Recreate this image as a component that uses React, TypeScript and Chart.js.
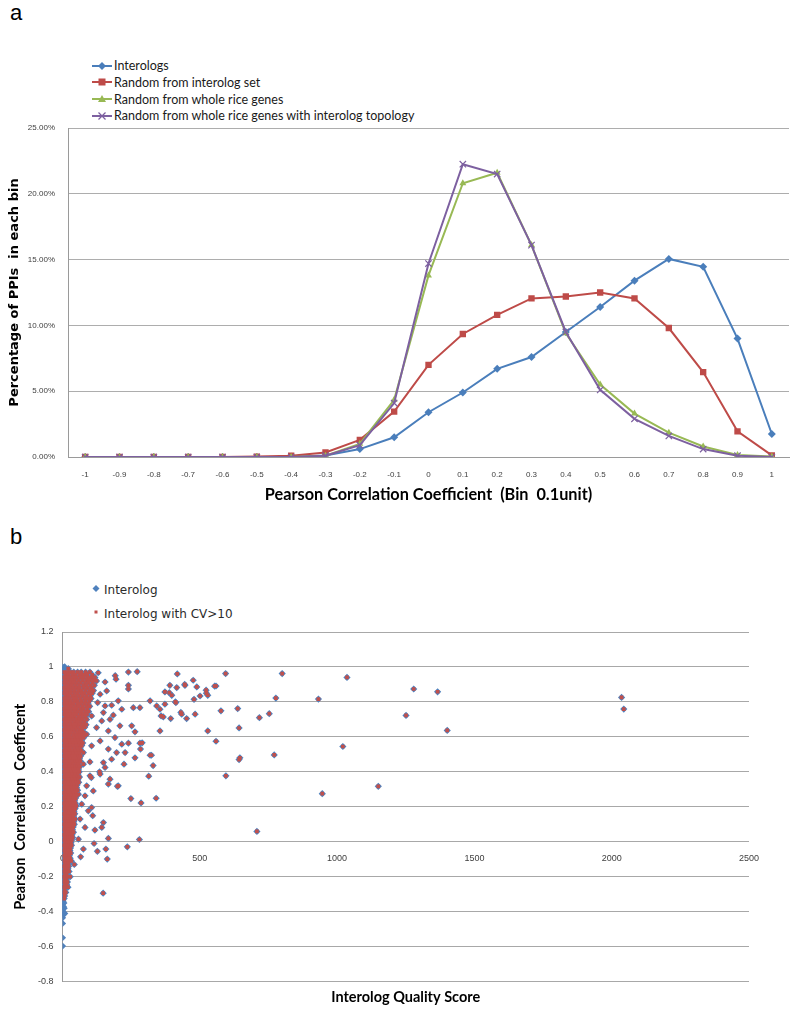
import React, { useEffect, useRef } from 'react';
import { Chart, registerables } from 'chart.js';

Chart.register(...registerables);

// ---------- Panel a data ----------
const binLabels = ['-1', '-0.9', '-0.8', '-0.7', '-0.6', '-0.5', '-0.4', '-0.3', '-0.2', '-0.1', '0', '0.1', '0.2', '0.3', '0.4', '0.5', '0.6', '0.7', '0.8', '0.9', '1'];
const interologs = [0, 0, 0, 0, 0, 0, 0.02, 0.12, 0.6, 1.5, 3.4, 4.9, 6.7, 7.6, 9.5, 11.4, 13.4, 15.05, 14.45, 9.0, 1.75];
const randomInterologSet = [0, 0, 0, 0, 0, 0.03, 0.1, 0.35, 1.3, 3.45, 7.0, 9.35, 10.8, 12.05, 12.2, 12.5, 12.05, 9.8, 6.45, 1.95, 0.12];
const randomWholeRice = [0, 0, 0, 0, 0, 0, 0, 0.1, 1.0, 4.35, 13.8, 20.8, 21.6, 16.1, 9.4, 5.5, 3.3, 1.85, 0.8, 0.15, 0.03];
const randomWholeRiceTopology = [0, 0, 0, 0, 0, 0, 0, 0.1, 0.9, 4.1, 14.7, 22.25, 21.5, 16.1, 9.5, 5.1, 2.9, 1.6, 0.6, 0.1, 0.0];
const seriesNamesA = ['Interologs', 'Random from interolog set', 'Random from whole rice genes', 'Random from whole rice genes with interolog topology'];
const seriesColorsA = ['#4A7EBB', '#BE4B48', '#98B954', '#7D60A0'];

// ---------- Panel b data ----------
// Interolog points with CV>10: [quality score, pearson]
const cvOutliers: [number, number][] = [
  [21, 0.99], [130, 0.967], [192, 0.95], [195, 0.93], [155, 0.914], [240, 0.971], [272, 0.973], [418, 0.96], [594, 0.962], [800, 0.962], [1036, 0.94],
  [240, 0.895], [240, 0.874], [391, 0.895], [389, 0.853], [446, 0.895], [476, 0.924], [416, 0.882], [445, 0.9], [489, 0.886], [373, 0.857], [398, 0.838],
  [523, 0.867], [559, 0.891], [554, 0.89], [524, 0.85], [501, 0.834], [529, 0.838], [479, 0.815], [319, 0.806], [343, 0.777], [373, 0.787], [411, 0.8],
  [413, 0.796], [777, 0.822], [932, 0.816], [367, 0.714], [394, 0.705], [434, 0.73], [452, 0.705], [483, 0.73], [355, 0.758], [359, 0.72], [431, 0.74],
  [577, 0.749], [638, 0.762], [717, 0.71], [753, 0.733], [355, 0.634], [529, 0.634], [643, 0.651], [559, 0.575], [643, 0.47], [646, 0.48], [771, 0.497],
  [1021, 0.545], [1150, 0.317], [946, 0.275], [708, 0.059], [595, 0.377], [258, 0.767], [282, 0.767], [252, 0.663], [264, 0.629], [282, 0.564],
  [319, 0.495], [240, 0.564], [209, 0.663], [173, 0.7], [149, 0.739], [167, 0.53], [197, 0.51], [228, 0.51], [179, 0.472], [149, 0.453], [100, 0.457],
  [290, 0.566], [284, 0.53], [264, 0.48], [224, 0.444], [324, 0.495], [330, 0.436], [314, 0.375], [341, 0.249], [286, 0.222], [249, 0.247], [200, 0.317],
  [173, 0.358], [167, 0.33], [203, 0.32], [137, 0.387], [155, 0.425], [135, 0.4], [105, 0.367], [100, 0.377], [112, 0.291], [82, 0.263], [58, 0.272],
  [106, 0.196], [110, 0.149], [149, 0.11], [143, 0.082], [118, 0.067], [167, 0.019], [280, 0.013], [236, -0.029], [115, -0.01], [158, -0.042],
  [127, -0.055], [163, -0.099], [66, -0.086], [58, 0.015], [148, -0.294], [1279, 0.874], [1366, 0.858], [1251, 0.723], [1401, 0.637], [2036, 0.826], [2044, 0.759],
  [88, 0.96], [98, 0.933], [64, 0.95], [124, 0.92], [106, 0.873], [137, 0.844], [161, 0.863], [100, 0.815], [128, 0.796], [155, 0.777], [179, 0.781],
  [203, 0.806], [216, 0.758], [185, 0.724], [143, 0.691], [106, 0.72], [124, 0.653], [167, 0.634], [88, 0.615], [191, 0.596], [137, 0.577], [106, 0.549],
  [216, 0.558], [76, 0.51], [76, 0.444], [88, 0.32], [70, 0.215], [94, 0.177], [64, 0.13], [82, 0.082], [76, -0.042], [43, -0.13]
];
// dense body of CV>10 points: [pearson, scores in that row]
const cvDenseRows: [number, number[]][] = [
  [0.97, [6, 17, 29, 41, 55, 68, 84, 100]], [0.955, [10, 22, 35, 48, 62, 76, 90, 108]], [0.94, [5, 15, 27, 39, 52, 66, 78, 92, 105, 118]],
  [0.925, [8, 20, 32, 45, 58, 72, 86, 99, 112]], [0.91, [6, 16, 28, 41, 53, 67, 82, 95, 110]], [0.895, [9, 21, 34, 46, 60, 75, 88, 102, 116]],
  [0.88, [5, 14, 26, 38, 50, 63, 78, 92, 106]], [0.865, [8, 19, 31, 44, 57, 70, 84, 98, 113]], [0.85, [6, 17, 29, 42, 55, 68, 81, 95, 108]],
  [0.835, [10, 22, 35, 47, 60, 74, 87, 101]], [0.82, [5, 15, 27, 40, 52, 65, 79, 90, 104]], [0.805, [8, 19, 31, 44, 56, 70, 83, 97]],
  [0.79, [6, 17, 29, 41, 54, 67, 80, 93]], [0.775, [9, 21, 34, 46, 59, 72, 86, 99]], [0.76, [5, 15, 27, 39, 51, 64, 76, 90]],
  [0.745, [8, 19, 31, 43, 56, 68, 82, 95]], [0.73, [6, 17, 28, 40, 52, 65, 77, 89]], [0.715, [10, 21, 33, 45, 58, 71, 84]],
  [0.7, [5, 15, 26, 38, 50, 62, 74, 88]], [0.685, [8, 19, 31, 43, 55, 67, 80]], [0.67, [6, 16, 28, 40, 51, 63, 75, 86]],
  [0.655, [9, 20, 32, 44, 56, 68, 81]], [0.64, [5, 15, 26, 37, 49, 61, 72]], [0.625, [8, 18, 30, 42, 54, 66, 78]],
  [0.61, [6, 16, 27, 39, 50, 60, 71, 83]], [0.595, [9, 20, 31, 43, 55, 66, 77]], [0.58, [5, 14, 25, 36, 47, 58, 69]],
  [0.565, [8, 18, 29, 41, 52, 63, 74]], [0.55, [6, 16, 27, 38, 49, 60, 70]], [0.535, [9, 19, 30, 42, 53, 64]],
  [0.52, [5, 14, 25, 36, 46, 57, 68]], [0.505, [8, 18, 28, 39, 50, 61]], [0.49, [6, 15, 26, 37, 47, 56, 66]],
  [0.475, [9, 19, 29, 40, 51, 62]], [0.46, [5, 14, 24, 35, 45, 55, 65]], [0.445, [8, 17, 28, 38, 49, 59]],
  [0.43, [6, 15, 25, 35, 45, 54, 63]], [0.415, [9, 18, 28, 39, 48, 58]], [0.4, [5, 14, 23, 33, 43, 52, 61]],
  [0.385, [8, 17, 27, 37, 46, 56]], [0.37, [6, 15, 24, 34, 44, 53, 62]], [0.355, [9, 18, 27, 37, 47, 56]],
  [0.34, [5, 13, 22, 32, 41, 50, 59]], [0.325, [8, 17, 26, 35, 44, 53]], [0.31, [6, 14, 23, 33, 42, 51]],
  [0.295, [9, 17, 26, 36, 45, 55]], [0.28, [5, 13, 22, 31, 40, 49]], [0.265, [8, 16, 25, 34, 43, 52]],
  [0.25, [6, 14, 22, 31, 40, 48]], [0.235, [9, 17, 26, 35, 44]], [0.22, [5, 13, 21, 30, 38, 47]],
  [0.205, [8, 16, 24, 33, 42, 50]], [0.19, [6, 14, 22, 30, 39, 46]], [0.175, [9, 17, 25, 34, 42]],
  [0.16, [5, 12, 20, 28, 37, 45]], [0.145, [8, 15, 23, 32, 40]], [0.13, [6, 13, 21, 29, 38, 46]],
  [0.115, [9, 16, 24, 33, 41]], [0.1, [5, 12, 19, 27, 35, 43]], [0.085, [8, 15, 23, 31, 39]],
  [0.07, [6, 13, 20, 28, 36]], [0.055, [9, 16, 24, 32, 40]], [0.04, [5, 12, 19, 27, 35]],
  [0.025, [8, 15, 22, 30, 37]], [0.01, [6, 13, 20, 28, 34]], [-0.005, [9, 16, 24, 31]],
  [-0.02, [5, 12, 19, 26, 33]], [-0.035, [8, 15, 22, 29]], [-0.05, [6, 13, 20, 27]],
  [-0.065, [9, 16, 23, 30]], [-0.08, [5, 12, 18, 25]], [-0.095, [8, 14, 21, 28]],
  [-0.11, [6, 12, 18, 24, 32]], [-0.125, [9, 15, 21]], [-0.14, [5, 11, 17, 23]],
  [-0.155, [8, 14, 20]], [-0.17, [6, 12, 18, 24]], [-0.185, [9, 15]],
  [-0.2, [5, 11, 17, 28]], [-0.215, [8, 14]], [-0.23, [6, 12, 18]],
  [-0.245, [9, 15]], [-0.26, [5, 11, 20]], [-0.275, [8]], [-0.29, [6, 12]], [-0.31, [8]], [-0.325, [6]]
];
// Interolog points that are not CV>10 (low-score column)
const interologOnly: [number, number][] = [
  [0, 1.0], [3, 0.99], [8, 1.0], [5, 0.995], [12, 0.985], [1, 0.975], [4, 0.96], [0, 0.945], [2, 0.93], [1, 0.91], [3, 0.895], [0, 0.88], [2, 0.86],
  [1, 0.845], [3, 0.83], [0, 0.81], [2, 0.795], [1, 0.78], [3, 0.76], [0, 0.745], [2, 0.73], [1, 0.71], [3, 0.695], [0, 0.68], [2, 0.66],
  [1, 0.645], [3, 0.63], [0, 0.61], [2, 0.595], [1, 0.58], [3, 0.56], [0, 0.545], [2, 0.53], [1, 0.51], [3, 0.495], [0, 0.48], [2, 0.46],
  [1, 0.445], [3, 0.43], [0, 0.41], [2, 0.395], [1, 0.38], [3, 0.36], [0, 0.345], [2, 0.33], [1, 0.31], [3, 0.295], [0, 0.28], [2, 0.26],
  [1, 0.245], [3, 0.23], [0, 0.21], [2, 0.195], [1, 0.18], [3, 0.16], [0, 0.145], [2, 0.13], [1, 0.11], [3, 0.095], [0, 0.08], [2, 0.06],
  [1, 0.045], [3, 0.03], [0, 0.01], [2, -0.005], [1, -0.02], [3, -0.04], [0, -0.055], [2, -0.07], [1, -0.09], [3, -0.105], [0, -0.12],
  [2, -0.14], [1, -0.155], [3, -0.17], [0, -0.19], [2, -0.205], [1, -0.22], [3, -0.24], [0, -0.255], [2, -0.27], [1, -0.29], [3, -0.305],
  [0, -0.32], [2, -0.34], [1, -0.355], [3, -0.37], [0, -0.39], [2, -0.405], [1, -0.42], [0, -0.435], [5, -0.35], [6, -0.38], [8, -0.41],
  [0, -0.467], [0, -0.549], [0, -0.597]
];
const yTicksB = [-0.8, -0.6, -0.4, -0.2, 0, 0.2, 0.4, 0.6, 0.8, 1, 1.2];
const xTicksB = [0, 500, 1000, 1500, 2000, 2500];

const cvPoints = [
  ...cvOutliers.map(([x, y]) => ({ x, y })),
  ...cvDenseRows.flatMap(([y, xs]) => xs.map((x) => ({ x, y }))),
];
const interologPoints = [...interologOnly.map(([x, y]) => ({ x, y })), ...cvPoints];

const LEG_FONT = 'Lato, "Liberation Sans", sans-serif';

function LegendMarker({ i }: { i: number }) {
  const c = seriesColorsA[i];
  let marker: React.ReactNode = null;
  if (i === 0) marker = <polygon points="10,2 14,6 10,10 6,6" fill={c} />;
  if (i === 1) marker = <rect x={6.5} y={2.5} width={7} height={7} fill={c} />;
  if (i === 2) marker = <polygon points="10,2 14,9 6,9" fill={c} />;
  if (i === 3)
    marker = (
      <g stroke={c} strokeWidth={1.2}>
        <line x1={6.5} y1={2.5} x2={13.5} y2={9.5} />
        <line x1={13.5} y1={2.5} x2={6.5} y2={9.5} />
      </g>
    );
  return (
    <svg width={20} height={12} style={{ display: 'block' }}>
      <line x1={0} y1={6} x2={20} y2={6} stroke={c} strokeWidth={2} />
      {marker}
    </svg>
  );
}

export default function App() {
  const refA = useRef<HTMLCanvasElement>(null);
  const refB = useRef<HTMLCanvasElement>(null);

  useEffect(() => {
    const dataA = [interologs, randomInterologSet, randomWholeRice, randomWholeRiceTopology];
    const styles = ['rectRot', 'rect', 'triangle', 'crossRot'];
    const radii = [4, 4.5, 4, 4.5];
    const chartA = new Chart(refA.current as HTMLCanvasElement, {
      type: 'line',
      data: {
        labels: binLabels,
        datasets: dataA.map((d, i) => ({
          label: seriesNamesA[i],
          data: d,
          borderColor: seriesColorsA[i],
          backgroundColor: seriesColorsA[i],
          borderWidth: 2,
          pointStyle: styles[i] as any,
          pointRadius: radii[i],
          pointBorderWidth: i === 3 ? 1.2 : 0,
          pointBorderColor: seriesColorsA[i],
          pointBackgroundColor: seriesColorsA[i],
          tension: 0,
          order: 3 - i,
        })),
      },
      options: {
        animation: false,
        responsive: false,
        maintainAspectRatio: false,
        layout: { padding: { left: 0, right: 11, top: 28, bottom: 15 } },
        plugins: { legend: { display: false }, tooltip: { enabled: false }, title: { display: false } },
        scales: {
          x: {
            offset: true,
            grid: { display: false, drawTicks: false },
            border: { color: '#9a9a9a', width: 1 },
            ticks: {
              autoSkip: false,
              maxRotation: 0,
              padding: 13,
              color: '#404040',
              font: { family: '"Liberation Sans", Arial, sans-serif', size: 8 },
            },
            title: {
              display: true,
              text: 'Pearson Correlation Coefficient  (Bin  0.1unit)',
              color: '#000',
              font: { family: LEG_FONT, weight: 'bold', size: 16.3 },
              padding: { top: 0, bottom: 0 },
            },
            afterFit: (s: any) => {
              s.height = 48;
            },
          },
          y: {
            min: 0,
            max: 25,
            ticks: {
              stepSize: 5,
              padding: 13,
              color: '#404040',
              font: { family: '"Liberation Sans", Arial, sans-serif', size: 8 },
              callback: (v: any) => Number(v).toFixed(2) + '%',
            },
            grid: { color: '#adadad', drawTicks: false },
            border: { color: '#9a9a9a', width: 1 },
            title: {
              display: true,
              text: 'Percentage of PPIs  in each bin',
              color: '#000',
              font: { family: '"DejaVu Sans", sans-serif', weight: 'bold', size: 13 },
              padding: { top: 7, bottom: 0 },
            },
            afterFit: (s: any) => {
              s.width = 68;
            },
          },
        },
      } as any,
    });

    const chartB = new Chart(refB.current as HTMLCanvasElement, {
      type: 'scatter',
      data: {
        datasets: [
          {
            label: 'Interolog with CV>10',
            data: cvPoints,
            pointStyle: 'rect',
            pointRadius: 2.6,
            pointBorderWidth: 0,
            backgroundColor: '#C0504D',
            borderColor: '#C0504D',
            order: 0,
          },
          {
            label: 'Interolog',
            data: interologPoints,
            pointStyle: 'rectRot',
            pointRadius: 3.6,
            pointBorderWidth: 0,
            backgroundColor: '#4F81BD',
            borderColor: '#4F81BD',
            order: 1,
          },
        ],
      },
      options: {
        animation: false,
        responsive: false,
        maintainAspectRatio: false,
        layout: { padding: { left: 0, right: 51, top: 32, bottom: 0 } },
        plugins: {
          legend: { display: false },
          tooltip: { enabled: false },
          title: {
            display: true,
            text: 'Interolog Quality Score',
            position: 'bottom',
            fullSize: false,
            color: '#000',
            font: { family: LEG_FONT, weight: 'bold', size: 14.5 },
            padding: { top: 7, bottom: 8 },
          },
        },
        scales: {
          x: {
            type: 'linear',
            position: { y: 0 },
            min: 0,
            max: 2500,
            afterBuildTicks: (s: any) => {
              s.ticks = xTicksB.map((v) => ({ value: v }));
            },
            grid: { display: false, drawTicks: false },
            border: { display: false },
            ticks: {
              padding: 11,
              color: '#404040',
              font: { family: '"Liberation Sans", Arial, sans-serif', size: 9 },
              callback: (v: any) => String(v),
            },
          },
          y: {
            min: -0.8,
            max: 1.2,
            afterBuildTicks: (s: any) => {
              s.ticks = yTicksB.map((v) => ({ value: v }));
            },
            grid: { color: '#a8a8a8', drawTicks: false },
            border: { color: '#9a9a9a', width: 1 },
            ticks: {
              padding: 9,
              color: '#404040',
              font: { family: '"Liberation Sans", Arial, sans-serif', size: 9 },
              callback: (v: any) => String(Math.round(Number(v) * 10) / 10),
            },
            title: {
              display: true,
              text: 'Pearson  Correlation  Coefficent',
              color: '#000',
              font: { family: LEG_FONT, weight: 'bold', size: 14.5 },
              padding: { top: 12, bottom: 0 },
            },
            afterFit: (s: any) => {
              s.width = 62.5;
            },
          },
        },
      } as any,
    });

    return () => {
      chartA.destroy();
      chartB.destroy();
    };
  }, []);

  return (
    <div style={{ position: 'absolute', left: 0, top: 0, width: 800, height: 1014, background: '#fff', overflow: 'hidden' }}>
      <div style={{ position: 'absolute', left: 10, top: 2, font: '22px "Liberation Sans", Arial, sans-serif', lineHeight: '22px', color: '#000' }}>a</div>
      <div style={{ position: 'absolute', left: 10, top: 526, font: '22px "Liberation Sans", Arial, sans-serif', lineHeight: '22px', color: '#000' }}>b</div>

      {seriesNamesA.map((name, i) => (
        <div
          key={name}
          style={{ position: 'absolute', left: 92, top: 57 + i * 16.8, height: 17, display: 'flex', alignItems: 'center' }}
        >
          <LegendMarker i={i} />
          <span style={{ marginLeft: 2, font: `12.5px ${LEG_FONT}`, color: '#1a1a1a', whiteSpace: 'nowrap' }}>{name}</span>
        </div>
      ))}

      <canvas ref={refA} width={800} height={420} style={{ position: 'absolute', left: 0, top: 100, width: 800, height: 420 }} />

      <div style={{ position: 'absolute', left: 92, top: 581, height: 18, display: 'flex', alignItems: 'center' }}>
        <svg width={10} height={18} style={{ display: 'block' }}>
          <polygon points="4,4 7.5,7.5 4,11 0.5,7.5" fill="#4F81BD" />
        </svg>
        <span style={{ marginLeft: 2, font: '12px "DejaVu Sans", sans-serif', color: '#2b2b2b' }}>Interolog</span>
      </div>
      <div style={{ position: 'absolute', left: 92, top: 605, height: 18, display: 'flex', alignItems: 'center' }}>
        <svg width={10} height={18} style={{ display: 'block' }}>
          <rect x={2.5} y={5.5} width={3} height={3} fill="#C0504D" />
        </svg>
        <span style={{ marginLeft: 2, font: '12px "DejaVu Sans", sans-serif', color: '#2b2b2b' }}>Interolog with CV&gt;10</span>
      </div>

      <canvas ref={refB} width={800} height={414} style={{ position: 'absolute', left: 0, top: 600, width: 800, height: 414 }} />
    </div>
  );
}
